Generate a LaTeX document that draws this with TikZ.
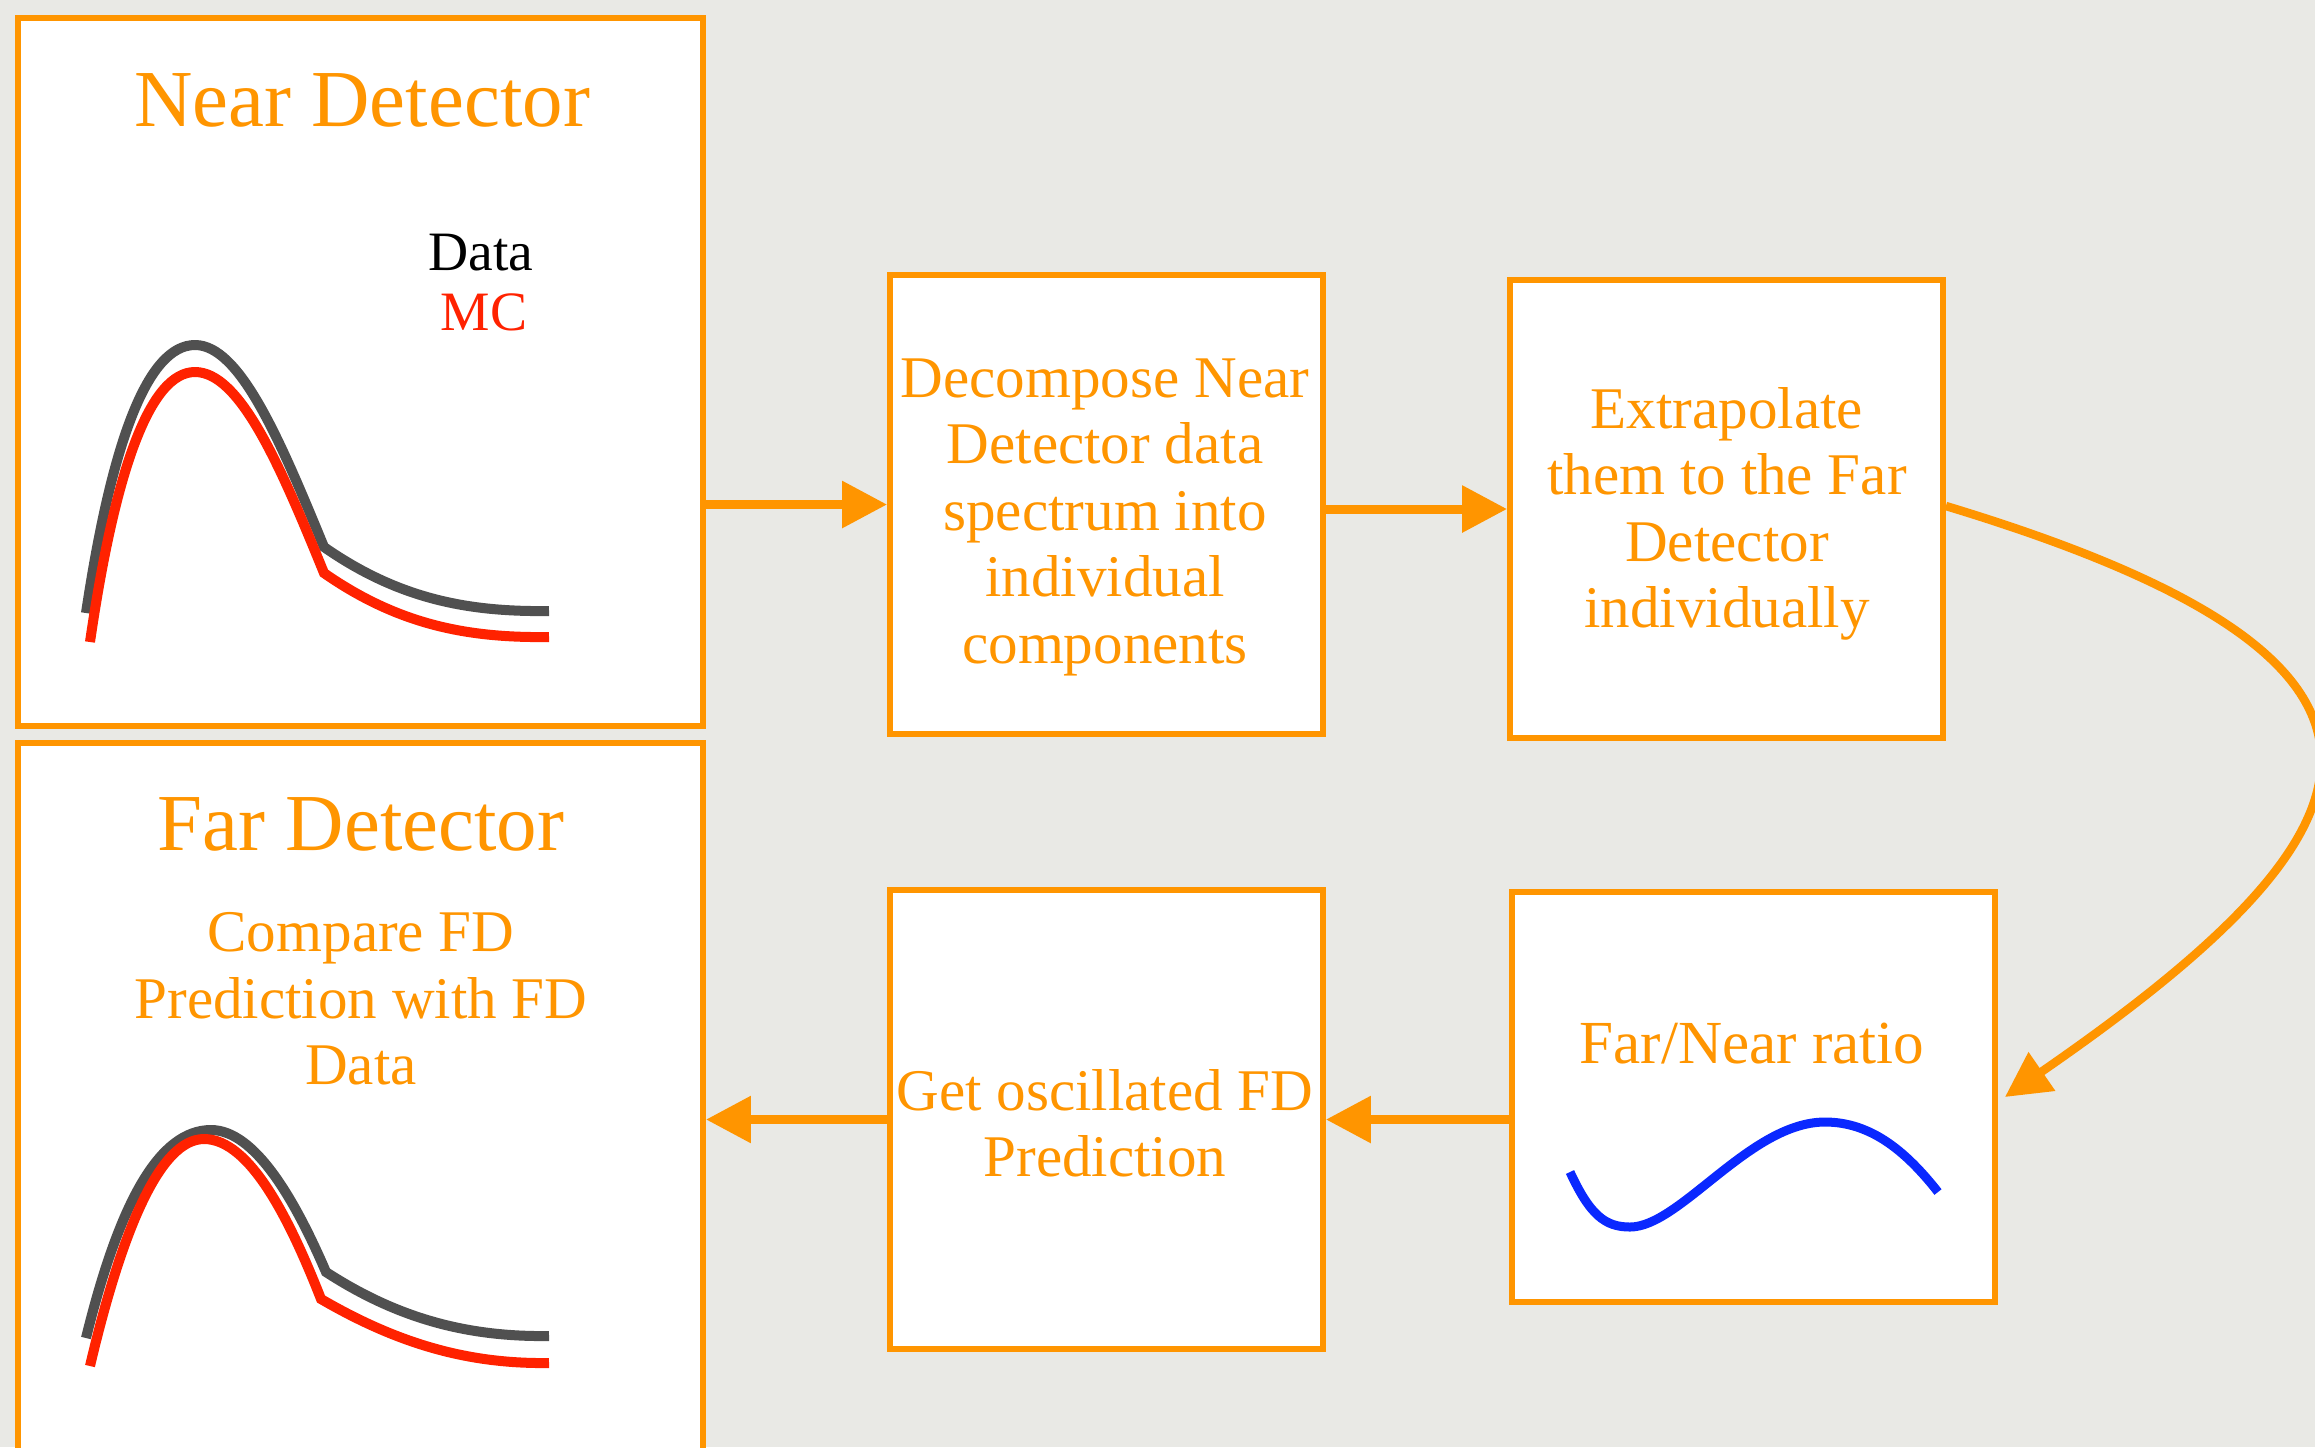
\documentclass[tikz,border=0pt]{standalone}
\usepackage{fontspec}
\setmainfont{Liberation Serif}
\usetikzlibrary{arrows.meta}
\definecolor{bg}{RGB}{233,233,229}
\definecolor{org}{RGB}{255,149,0}
\definecolor{dgray}{RGB}{80,80,80}
\definecolor{cred}{RGB}{255,34,0}
\definecolor{cblue}{RGB}{10,40,255}
\begin{document}
\begin{tikzpicture}[x=0.01cm,y=-0.01cm,
  box/.style={draw=org, fill=white, line width=0.055cm, rectangle, inner sep=0pt},
  title/.style={text=org, inner sep=0pt, font=\fontsize{23}{27}\selectfont},
  body/.style={text=org, align=center, inner sep=0pt, font=\fontsize{16.8}{18.9}\selectfont},
  legend/.style={inner sep=0pt, font=\fontsize{15.8}{18}\selectfont},
  flow/.style={draw=org, line width=0.09cm, -{Triangle[length=0.45cm,width=0.45cm]}},
  spec/.style={line width=0.1cm},
]
\path[use as bounding box] (0,0) rectangle (2315,1447);
\begin{scope}
\clip (0,0) rectangle (2315,1447);
\fill[bg] (0,0) rectangle (2315,1447);

% boxes
\node[box, minimum width=6.85cm, minimum height=7.08cm] (nd) at (360.5,372) {};
\node[box, minimum width=6.85cm, minimum height=7.80cm] (fd) at (360.5,1133) {};
\node[box, minimum width=4.33cm, minimum height=4.59cm] (dec) at (1106.5,504.5) {};
\node[box, minimum width=4.33cm, minimum height=4.58cm] (ext) at (1726.5,509) {};
\node[box, minimum width=4.33cm, minimum height=4.59cm] (go) at (1106.5,1119.5) {};
\node[box, minimum width=4.83cm, minimum height=4.10cm] (fn) at (1753.5,1097) {};

% texts
\node[title] (ndt) at (362,100) {Near Detector};
\node[title] (fdt) at (361,824) {Far Detector};
\node[legend, text=black] (dat) at (481,253) {Data};
\node[legend, text=cred] (mct) at (484,312) {MC};
\node[body] (fdtx) at (361,999) {Compare FD\\Prediction with FD\\Data};
\node[body] (dect) at (1105,517) {Decompose Near\\Detector data\\spectrum into\\individual\\components};
\node[body] (extt) at (1727,514) {Extrapolate\\them to the Far\\Detector\\individually};
\node[body, anchor=base, font=\fontsize{17.4}{19}\selectfont] (fnt) at (1752,1063) {Far/Near ratio};
\node[body] (got) at (1105,1123) {Get oscillated FD\\Prediction};

% spectra near detector
\draw[spec, dgray] (86,613) .. controls (112,440) and (148,345) .. (195,345)
  .. controls (240,345) and (280,440) .. (324,547)
  .. controls (400,600) and (470,612) .. (549,611);
\draw[spec, cred] (90,642) .. controls (115,470) and (150,372) .. (195,372)
  .. controls (240,372) and (280,465) .. (324,573)
  .. controls (400,626) and (470,638) .. (549,637);

% spectra far detector
\draw[spec, dgray] (86,1338) .. controls (120,1200) and (160,1130) .. (211,1130)
  .. controls (255,1130) and (295,1200) .. (326,1272)
  .. controls (400,1320) and (470,1337) .. (549,1336);
\draw[spec, cred] (90,1366) .. controls (122,1230) and (160,1139) .. (204,1139)
  .. controls (250,1139) and (290,1220) .. (321,1299)
  .. controls (400,1345) and (470,1364) .. (549,1363);

% ratio curve
\draw[line width=0.09cm, cblue] (1570,1172) .. controls (1590,1215) and (1605,1227) .. (1630,1227)
  .. controls (1680,1227) and (1750,1122) .. (1825,1122)
  .. controls (1870,1122) and (1905,1150) .. (1938,1192);

% connectors
\draw[flow] (nd.east |- dec.west) -- (dec.west);
\draw[flow] (dec.east |- ext.west) -- (ext.west);
\draw[flow] (fn.west |- go.east) -- (go.east);
\draw[flow] (go.west) -- (fd.east |- go.west);
\draw[flow, line width=0.085cm] ([yshift=0.03cm]ext.east) .. controls (2465,663) and (2396,827) .. ([xshift=0.07cm]fn.east);
\end{scope}
\end{tikzpicture}
\end{document}
